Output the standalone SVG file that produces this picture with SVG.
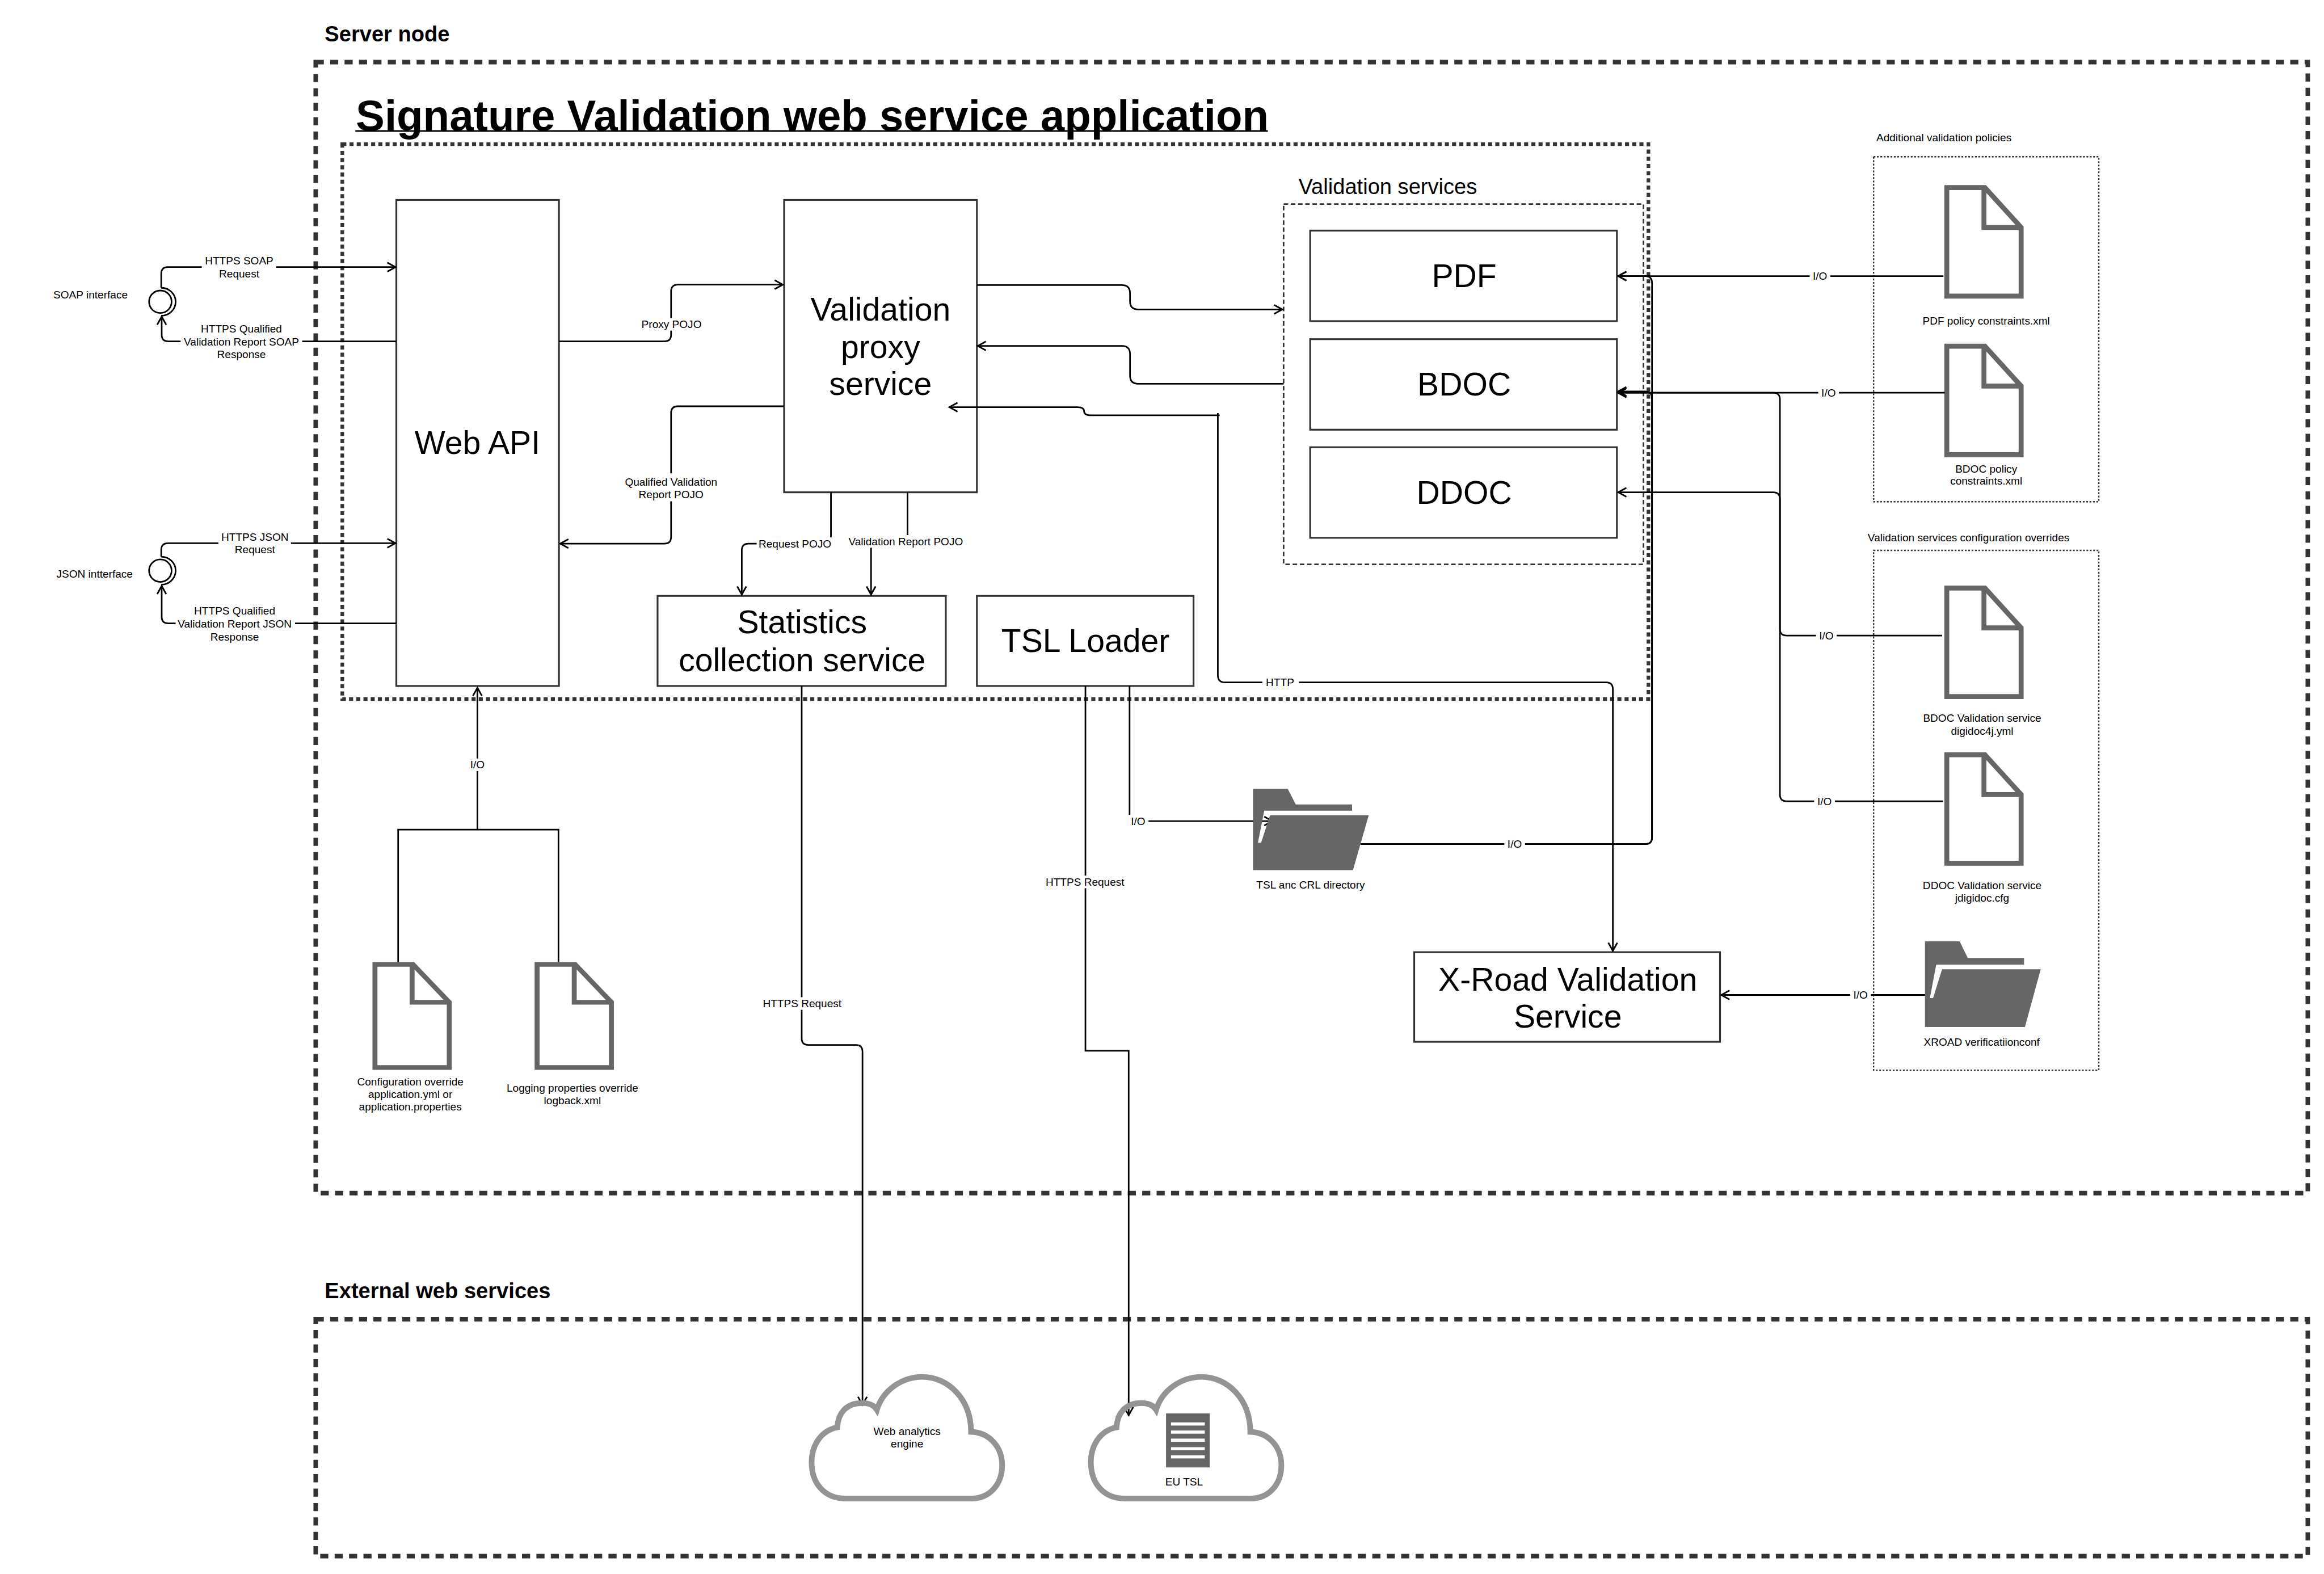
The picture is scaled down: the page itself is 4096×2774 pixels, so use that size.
<svg xmlns="http://www.w3.org/2000/svg" width="4096" height="2774" viewBox="0 0 4096 2774">
<style>
text{font-family:"Liberation Sans",Arial,sans-serif;fill:#000;dominant-baseline:central}
.s{font-size:24px;text-anchor:middle}
.sl{font-size:24px}
.b{font-size:72px;text-anchor:middle}
.h{font-size:48px;font-weight:bold}
.box{fill:#fff;stroke:#333;stroke-width:4}
.outer{fill:none;stroke:#333;stroke-width:10;stroke-dasharray:18 14}
.inner{fill:none;stroke:#333;stroke-width:8;stroke-dasharray:9 7}
.svc{fill:none;stroke:#333;stroke-width:3.5;stroke-dasharray:10 6}
.dot{fill:none;stroke:#333;stroke-width:3;stroke-dasharray:4 3.5}
.c{fill:none;stroke:#000;stroke-width:3.5}
.a{marker-end:url(#arrow)}
.lb{fill:#fff}
.doc{fill:#fff;stroke:#666;stroke-width:11}
.iface{fill:#fff;stroke:#000;stroke-width:3.5}
</style>
<defs>
<marker id="arrow" markerUnits="userSpaceOnUse" markerWidth="30" markerHeight="30" viewBox="-25 -15 30 30" refX="0" refY="0" orient="auto">
<path d="M-19,-10 L-1,0 L-19,10" fill="none" stroke="#000" stroke-width="3.6"/>
</marker>
<g id="docicon">
<path d="M5.5,5.5 H90 L170.5,94 V246.5 H5.5 Z"/>
<path d="M88,5.5 V94 H170.5" fill="none"/>
</g>
<path id="folder" fill="#666" fill-rule="evenodd" d="M0,0 H77 L95,35 H220 V59 H257 L222,181 H0 Z M25,49 H220 V59 H38 L18,120 H11 Z"/>
<path id="cloudpath" d="M1877,3327 C1830,3327 1802,3293 1802,3246 C1802,3210 1822,3176 1859,3169 C1861,3136 1880,3115 1914,3115 C1930,3115 1941,3120 1947,3130 C1960,3087 2002,3057 2048,3057 C2105,3057 2156,3106 2156,3179 C2197,3180 2225,3213 2225,3253 C2225,3296 2197,3327 2157,3327 Z"/>
</defs>
<rect width="4096" height="2774" fill="#fff"/>
<g transform="scale(0.7938)" opacity="0.999">
<g id="server-node">
<rect class="outer" x="701" y="138" width="4423" height="2511"/>
<text class="h" x="721" y="75">Server node</text>
</g>
<g id="external-services">
<rect class="outer" x="701" y="2929" width="4423" height="526"/>
<text class="h" x="721" y="2866">External web services</text>
</g>
<g id="application">
<rect class="inner" x="760" y="320" width="2900" height="1232"/>
<text x="790" y="256" font-size="96" font-weight="bold">Signature Validation web service application</text>
<rect x="789" y="289" width="2026" height="3.5" fill="#000"/>
</g>
<g id="validation-services">
<rect class="svc" x="2850" y="453" width="799" height="800"/>
<text x="2883" y="415" font-size="48">Validation services</text>
</g>
<g id="web-api"><rect class="box" x="880" y="444" width="361" height="1079"/><text class="b" x="1060" y="983">Web API</text></g>
<g id="proxy"><rect class="box" x="1741" y="444" width="428" height="649"/><text class="b"><tspan x="1955" y="686">Validation</tspan><tspan x="1955" y="770">proxy</tspan><tspan x="1955" y="852">service</tspan></text></g>
<g id="pdf"><rect class="box" x="2909" y="512" width="681" height="201"/><text class="b" x="3251" y="612">PDF</text></g>
<g id="bdoc"><rect class="box" x="2909" y="753" width="681" height="201"/><text class="b" x="3251" y="853">BDOC</text></g>
<g id="ddoc"><rect class="box" x="2909" y="993" width="681" height="201"/><text class="b" x="3251" y="1093">DDOC</text></g>
<g id="statistics"><rect class="box" x="1460" y="1323" width="640" height="200"/><text class="b"><tspan x="1781" y="1381">Statistics</tspan><tspan x="1781" y="1465">collection service</tspan></text></g>
<g id="tsl-loader"><rect class="box" x="2169" y="1323" width="481" height="200"/><text class="b" x="2410" y="1422">TSL Loader</text></g>
<g id="xroad"><rect class="box" x="3140" y="2114" width="679" height="199"/><text class="b"><tspan x="3481" y="2174">X-Road Validation</tspan><tspan x="3481" y="2256">Service</tspan></text></g>
<g id="soap-interface">
<circle class="iface" cx="356" cy="670" r="25"/>
<path d="M358,639 A32,31 0 0 1 358,701" fill="none" stroke="#000" stroke-width="3.5"/>
<text class="s" x="201" y="655">SOAP interface</text>
</g>
<g id="json-interface">
<circle class="iface" cx="356" cy="1267" r="25"/>
<path d="M358,1236 A32,31 0 0 1 358,1298" fill="none" stroke="#000" stroke-width="3.5"/>
<text class="s" x="210" y="1274">JSON intterface</text>
</g>
<g id="policies">
<rect class="dot" x="4160" y="348" width="500" height="766"/>
<text class="sl" x="4166" y="306">Additional validation policies</text>
</g>
<g id="overrides">
<rect class="dot" x="4160" y="1222" width="500" height="1154"/>
<text class="sl" x="4147" y="1194">Validation services configuration overrides</text>
</g>
<g id="doc-pdf"><use href="#docicon" class="doc" x="4317" y="411"/><text class="s" x="4410" y="713">PDF policy constraints.xml</text></g>
<g id="doc-bdoc"><use href="#docicon" class="doc" x="4317" y="763"/><text class="s"><tspan x="4410" y="1040">BDOC policy</tspan><tspan x="4410" y="1067">constraints.xml</tspan></text></g>
<g id="doc-bdoc-conf"><use href="#docicon" class="doc" x="4317" y="1300"/><text class="s"><tspan x="4401" y="1594">BDOC Validation service</tspan><tspan x="4401" y="1622">digidoc4j.yml</tspan></text></g>
<g id="doc-ddoc-conf"><use href="#docicon" class="doc" x="4317" y="1670"/><text class="s"><tspan x="4401" y="1965">DDOC Validation service</tspan><tspan x="4401" y="1993">jdigidoc.cfg</tspan></text></g>
<g id="doc-config"><use href="#docicon" class="doc" transform="translate(827 2136) scale(1 .95)"/><text class="s"><tspan x="911" y="2401">Configuration override</tspan><tspan x="911" y="2429">application.yml or</tspan><tspan x="911" y="2457">application.properties</tspan></text></g>
<g id="doc-logging"><use href="#docicon" class="doc" transform="translate(1187 2136) scale(1 .95)"/><text class="s"><tspan x="1271" y="2415">Logging properties override</tspan><tspan x="1271" y="2443">logback.xml</tspan></text></g>
<g id="cloud-analytics"><use href="#cloudpath" fill="#fff"/><text class="s"><tspan x="2014" y="3177">Web analytics</tspan><tspan x="2014" y="3205">engine</tspan></text></g>
<g id="cloud-tsl"><use href="#cloudpath" fill="#fff" transform="translate(620 0)"/>
<rect x="2589" y="3138" width="97" height="120" fill="#666"/>
<g fill="#fff"><rect x="2600" y="3158" width="75" height="7"/><rect x="2600" y="3176" width="75" height="7"/><rect x="2600" y="3194" width="75" height="7"/><rect x="2600" y="3213" width="75" height="7"/><rect x="2600" y="3231" width="75" height="7"/></g>
<text class="s" x="2629" y="3290">EU TSL</text></g>
<g id="connectors">
<path class="c a" d="M358,639 V608 Q358,593 373,593 H879"/>
<path class="c a" d="M880,758 H374 Q359,758 359,743 V702"/>
<path class="c a" d="M358,1236 V1221 Q358,1206 373,1206 H879"/>
<path class="c a" d="M880,1384 H374 Q359,1384 359,1369 V1300"/>
<path class="c a" d="M1241,758 H1475 Q1490,758 1490,743 V647 Q1490,632 1505,632 H1739"/>
<path class="c a" d="M1740,902 H1505 Q1490,902 1490,917 V1192 Q1490,1207 1475,1207 H1243"/>
<path class="c a" d="M1845,1093 V1207 H1662 Q1647,1207 1647,1222 V1321"/>
<path class="c a" d="M2015,1093 V1202 H1934 V1321"/>
<path class="c a" d="M2169,633 H2491 Q2509,633 2509,651 V669 Q2509,687 2527,687 H2848"/>
<path class="c a" d="M2850,852 H2527 Q2509,852 2509,834 V786 Q2509,768 2491,768 H2170"/>
<path class="c a" d="M2708,922 H2422 Q2407,922 2407,913 Q2407,904 2392,904 H2107"/>
<path class="c a" d="M2704,917 V1499 Q2704,1515 2720,1515 H3566 Q3581,1515 3581,1530 V2112"/>
<path class="c a" d="M1780,1523 V2305 Q1780,2320 1795,2320 H1900 Q1915,2320 1915,2335 V3120"/>
<path class="c a" d="M2410,1523 V2333 H2506 V3143"/>
<path class="c a" d="M2508,1523 V1808 Q2508,1823 2523,1823 H2826"/>
<path class="c a" d="M3021,1874 H3653 Q3668,1874 3668,1859 V628 Q3668,613 3653,613 H3592"/>
<path class="c a" d="M3021,1874 H3653 Q3668,1874 3668,1859 V884 Q3668,869 3653,869 H3592"/>
<path class="c a" d="M4315,613 H3592"/>
<path class="c a" d="M4318,872 H3592"/>
<path class="c a" d="M4312,1411 H3967 Q3952,1411 3952,1396 V887 Q3952,872 3937,872 H3592"/>
<path class="c a" d="M4314,1779 H3967 Q3952,1779 3952,1764 V1108 Q3952,1093 3937,1093 H3592"/>
<path class="c a" d="M4277,2209 H3821"/>
<path class="c" d="M884,2136 V1842 H1240 V2136"/>
<path class="c a" d="M1060,1842 V1526"/>
<g class="lb">
<rect x="448" y="565" width="165" height="57"/><rect x="401" y="716" width="270" height="84"/>
<rect x="485" y="1178" width="161" height="57"/><rect x="390" y="1342" width="265" height="86"/>
<rect x="1425" y="706" width="132" height="28"/><rect x="1378" y="1051" width="224" height="62"/>
<rect x="1680" y="1193" width="169" height="28"/><rect x="1880" y="1188" width="260" height="28"/>
<rect x="2803" y="1501" width="81" height="28"/><rect x="1691" y="2214" width="180" height="28"/><rect x="2319" y="1944" width="180" height="28"/>
<rect x="1040" y="1684" width="40" height="28"/><rect x="4018" y="599" width="46" height="28"/><rect x="4037" y="858" width="46" height="28"/><rect x="4032" y="1397" width="46" height="28"/><rect x="4028" y="1765" width="46" height="28"/><rect x="4108" y="2195" width="46" height="28"/><rect x="2504" y="1809" width="46" height="28"/><rect x="3340" y="1860" width="46" height="28"/>
</g>
<text class="s"><tspan x="531" y="578">HTTPS SOAP</tspan><tspan x="531" y="607">Request</tspan></text>
<text class="s"><tspan x="536" y="730">HTTPS Qualified</tspan><tspan x="536" y="759">Validation Report SOAP</tspan><tspan x="536" y="786">Response</tspan></text>
<text class="s"><tspan x="566" y="1192">HTTPS JSON</tspan><tspan x="566" y="1220">Request</tspan></text>
<text class="s"><tspan x="521" y="1356">HTTPS Qualified</tspan><tspan x="521" y="1385">Validation Report JSON</tspan><tspan x="521" y="1413">Response</tspan></text>
<text class="s" x="1491" y="720">Proxy POJO</text>
<text class="s"><tspan x="1490" y="1069">Qualified Validation</tspan><tspan x="1490" y="1097">Report POJO</tspan></text>
<text class="s" x="1765" y="1207">Request POJO</text>
<text class="s" x="2011" y="1202">Validation Report POJO</text>
<text class="s" x="2842" y="1515">HTTP</text>
<text class="s" x="1781" y="2228">HTTPS Request</text>
<text class="s" x="2409" y="1958">HTTPS Request</text>
<text class="s" x="1060" y="1698">I/O</text>
<text class="s" x="4041" y="613">I/O</text>
<text class="s" x="4060" y="872">I/O</text>
<text class="s" x="4055" y="1411">I/O</text>
<text class="s" x="4051" y="1779">I/O</text>
<text class="s" x="4131" y="2209">I/O</text>
<text class="s" x="2527" y="1823">I/O</text>
<text class="s" x="3363" y="1874">I/O</text>
</g>
<g id="cloud-analytics-outline"><use href="#cloudpath" fill="none" stroke="#949494" stroke-width="12.5"/></g>
<g id="cloud-tsl-outline"><use href="#cloudpath" fill="none" stroke="#949494" stroke-width="12.5" transform="translate(620 0)"/></g>
<g id="folder-tsl"><use href="#folder" transform="translate(2782 1751)"/><text class="s" x="2910" y="1965">TSL anc CRL directory</text></g>
<g id="folder-xroad"><use href="#folder" transform="translate(4274 2090) scale(1 1.05)"/><text class="s" x="4400" y="2314">XROAD verificatiionconf</text></g>
</g>
</svg>
